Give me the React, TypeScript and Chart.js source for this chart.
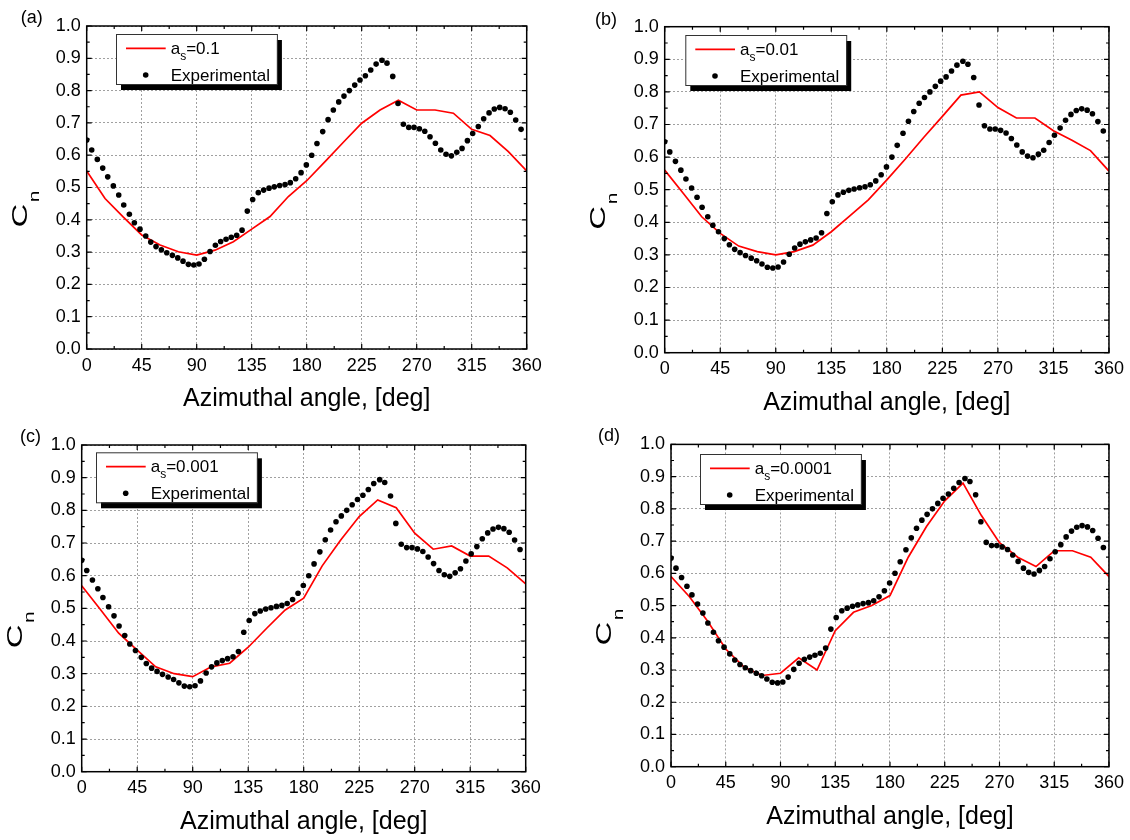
import React, { useEffect, useRef } from "react";
import { Chart, registerables } from "chart.js";

Chart.register(...registerables);

const FONT = "'Liberation Sans', Arial, Helvetica, sans-serif";

// Experimental data (same in all panels)
const expAngle = [
  0, 4.1, 8.7, 13.1, 17.2, 21.8, 26.2, 30.3, 34.9, 39.0,
  43.6, 48.3, 52.4, 56.7, 61.1, 65.5, 70.1, 74.5, 78.8, 83.2,
  87.6, 91.9, 96.3, 100.9, 105.3, 109.6, 114.0, 118.3, 122.7, 127.1,
  131.4, 135.8, 140.4, 144.8, 149.2, 153.5, 157.9, 162.3, 166.6, 171.0,
  175.4, 179.7, 184.1, 188.4, 193.1, 197.5, 201.8, 206.2, 210.5, 214.9,
  219.3, 223.6, 228.0, 232.4, 236.8, 241.6, 245.7, 250.4, 254.7, 259.1,
  263.5, 267.8, 272.2, 276.6, 280.9, 285.3, 289.7, 294.0, 298.4, 302.8,
  307.1, 311.5, 315.8, 320.4, 324.8, 329.2, 333.5, 337.9, 342.3, 346.6,
  351.0, 355.4,
];
const expCn = [
  0.647, 0.616, 0.587, 0.560, 0.533, 0.505, 0.477, 0.446, 0.417, 0.391,
  0.371, 0.350, 0.331, 0.317, 0.307, 0.298, 0.290, 0.282, 0.272, 0.262,
  0.260, 0.263, 0.278, 0.302, 0.321, 0.333, 0.340, 0.346, 0.352, 0.368,
  0.427, 0.463, 0.484, 0.492, 0.498, 0.502, 0.506, 0.509, 0.515, 0.527,
  0.546, 0.570, 0.600, 0.636, 0.673, 0.710, 0.740, 0.765, 0.783, 0.800,
  0.817, 0.833, 0.846, 0.864, 0.882, 0.894, 0.885, 0.844, 0.760, 0.696,
  0.686, 0.686, 0.682, 0.674, 0.657, 0.637, 0.616, 0.603, 0.598, 0.609,
  0.621, 0.645, 0.667, 0.689, 0.713, 0.731, 0.743, 0.748, 0.744, 0.733,
  0.709, 0.680,
];

// Model angles
const modelAngle = [
  0, 15, 30, 45, 60, 75, 90, 105, 120, 135, 150, 165, 180,
  195, 210, 225, 240, 255, 270, 285, 300, 315, 330, 345, 360,
];
const cnModelA = [
  0.551, 0.466, 0.408, 0.353, 0.322, 0.301, 0.291, 0.306, 0.332, 0.371, 0.410, 0.472, 0.521,
  0.580, 0.640, 0.699, 0.740, 0.770, 0.740, 0.740, 0.730, 0.680, 0.661, 0.611, 0.551,
];
const cnModelB = [
  0.560, 0.489, 0.417, 0.366, 0.327, 0.310, 0.300, 0.310, 0.330, 0.371, 0.420, 0.469, 0.530,
  0.594, 0.661, 0.725, 0.790, 0.800, 0.752, 0.720, 0.720, 0.681, 0.652, 0.620, 0.557,
];
const cnModelC = [
  0.569, 0.497, 0.424, 0.372, 0.321, 0.300, 0.291, 0.321, 0.332, 0.381, 0.439, 0.495, 0.531,
  0.630, 0.709, 0.781, 0.832, 0.808, 0.730, 0.681, 0.691, 0.660, 0.660, 0.624, 0.575,
];
const cnModelD = [
  0.590, 0.528, 0.452, 0.365, 0.309, 0.283, 0.290, 0.338, 0.300, 0.422, 0.479, 0.500, 0.531,
  0.650, 0.745, 0.825, 0.880, 0.780, 0.695, 0.650, 0.621, 0.670, 0.670, 0.650, 0.590,
];

const coeffValues = ["0.1", "0.01", "0.001", "0.0001"];
const panelTags = ["(a)", "(b)", "(c)", "(d)"];
const xTickValues = [0, 45, 90, 135, 180, 225, 270, 315, 360];
const yTickValues = [0, 0.1, 0.2, 0.3, 0.4, 0.5, 0.6, 0.7, 0.8, 0.9, 1.0];
const xTitle = "Azimuthal angle, [deg]";
const expLabel = "Experimental";

const CW = 565;
const CH = 420;
const XH = 40;

const panels = [
  { tag: panelTags[0], coeff: coeffValues[0], model: cnModelA, left: 0, top: 0,
    area: { l: 86.7, r: 526.7, t: 26, b: 349 }, legend: { dx: 29.3, dy: 8 }, tagPos: { x: 20.7, y: 23 } },
  { tag: panelTags[1], coeff: coeffValues[1], model: cnModelB, left: 565, top: 0,
    area: { l: 99.7, r: 545, t: 26.7, b: 352.7 }, legend: { dx: 20.6, dy: 8.3 }, tagPos: { x: 30, y: 24.5 } },
  { tag: panelTags[2], coeff: coeffValues[2], model: cnModelC, left: 0, top: 420,
    area: { l: 81.7, r: 525.7, t: 25, b: 351.7 }, legend: { dx: 14.3, dy: 7.3 }, tagPos: { x: 20, y: 21.8 } },
  { tag: panelTags[3], coeff: coeffValues[3], model: cnModelD, left: 565, top: 420,
    area: { l: 106, r: 545.3, t: 24.4, b: 346.7 }, legend: { dx: 29, dy: 9.6 }, tagPos: { x: 33, y: 21.2 } },
];

function Panel({ cfg }: { cfg: any }) {
  const ref = useRef<HTMLCanvasElement>(null);
  useEffect(() => {
    const canvas = ref.current as HTMLCanvasElement;
    const area = cfg.area;

    const decor = {
      id: "decor",
      afterDraw(chart: any) {
        const ctx = chart.ctx as CanvasRenderingContext2D;
        const ca = chart.chartArea;
        const xs = chart.scales.x;
        const ys = chart.scales.y;
        ctx.save();
        // frame
        ctx.strokeStyle = "#000";
        ctx.lineWidth = 1.5;
        ctx.strokeRect(ca.left, ca.top, ca.right - ca.left, ca.bottom - ca.top);
        // inward ticks
        ctx.lineWidth = 1.2;
        ctx.beginPath();
        for (let i = 0; i <= 20; i++) {
          const y = ys.getPixelForValue(i * 0.05);
          const len = i % 2 === 0 ? 5 : 3;
          ctx.moveTo(ca.left, y);
          ctx.lineTo(ca.left + len, y);
          ctx.moveTo(ca.right, y);
          ctx.lineTo(ca.right - len, y);
        }
        for (let i = 0; i <= 16; i++) {
          const x = xs.getPixelForValue(i * 22.5);
          const len = i % 2 === 0 ? 5 : 3;
          ctx.moveTo(x, ca.bottom);
          ctx.lineTo(x, ca.bottom - len);
          ctx.moveTo(x, ca.top);
          ctx.lineTo(x, ca.top + len);
        }
        ctx.stroke();

        // panel tag
        ctx.fillStyle = "#000";
        ctx.textBaseline = "alphabetic";
        ctx.textAlign = "left";
        ctx.font = `18px ${FONT}`;
        ctx.fillText(cfg.tag, cfg.tagPos.x, cfg.tagPos.y);

        // x title
        ctx.font = `25px ${FONT}`;
        ctx.textAlign = "center";
        ctx.fillText(xTitle, (ca.left + ca.right) / 2, ca.bottom + 57);

        // y title C_n (rotated)
        ctx.textAlign = "left";
        ctx.save();
        ctx.translate(ca.left - 60, (ca.top + ca.bottom) / 2 + 40);
        ctx.rotate(-Math.PI / 2);
        ctx.scale(1.5, 1);
        ctx.font = `22px ${FONT}`;
        ctx.fillText("C", 0, 0);
        const cw = ctx.measureText("C").width;
        ctx.font = `14px ${FONT}`;
        ctx.fillText("n", cw + 1, 12);
        ctx.restore();

        // legend
        const lx = ca.left + cfg.legend.dx;
        const ly = ca.top + cfg.legend.dy;
        const tx = lx + 54.7;
        ctx.font = `17px ${FONT}`;
        const aw = ctx.measureText("a").width;
        const restW = ctx.measureText("=" + cfg.coeff).width;
        const expW = ctx.measureText(expLabel).width;
        ctx.font = `12px ${FONT}`;
        const sw = ctx.measureText("s").width;
        const textW = Math.max(aw + sw + restW, expW);
        const boxW = 54.7 + textW + 7;
        const boxH = 50;
        ctx.fillStyle = "#000";
        ctx.fillRect(lx + 5, ly + 6, boxW, boxH);
        ctx.fillStyle = "#fff";
        ctx.fillRect(lx, ly, boxW, boxH);
        ctx.strokeStyle = "#333";
        ctx.lineWidth = 1;
        ctx.strokeRect(lx + 0.5, ly + 0.5, boxW, boxH);
        ctx.strokeStyle = "#ff0000";
        ctx.lineWidth = 1.8;
        ctx.beginPath();
        ctx.moveTo(lx + 10, ly + 14.3);
        ctx.lineTo(lx + 49.7, ly + 14.3);
        ctx.stroke();
        ctx.fillStyle = "#000";
        ctx.font = `17px ${FONT}`;
        ctx.fillText("a", tx, ly + 20);
        ctx.font = `12px ${FONT}`;
        ctx.fillText("s", tx + aw, ly + 26);
        ctx.font = `17px ${FONT}`;
        ctx.fillText("=" + cfg.coeff, tx + aw + sw, ly + 20);
        ctx.beginPath();
        ctx.arc(lx + 29.7, ly + 41, 2.8, 0, Math.PI * 2);
        ctx.fill();
        ctx.fillText(expLabel, tx, ly + 47);
        ctx.restore();
      },
    };

    const tickFont = { family: FONT, size: 18 };
    const chart = new Chart(canvas, {
      type: "scatter",
      data: {
        datasets: [
          {
            label: expLabel,
            data: expAngle.map((x, i) => ({ x, y: expCn[i] })),
            showLine: false,
            pointRadius: 2.8,
            pointHoverRadius: 2.8,
            pointBackgroundColor: "#000",
            pointBorderColor: "#000",
            pointBorderWidth: 0,
            order: 0,
          },
          {
            label: "a_s=" + cfg.coeff,
            data: modelAngle.map((x, i) => ({ x, y: cfg.model[i] })),
            showLine: true,
            borderColor: "#ff0000",
            backgroundColor: "#ff0000",
            borderWidth: 1.7,
            pointRadius: 0,
            pointHoverRadius: 0,
            fill: false,
            tension: 0,
            order: 1,
          },
        ],
      },
      options: {
        animation: false,
        responsive: false,
        events: [],
        layout: {
          padding: { left: 0, top: area.t, right: CW - area.r, bottom: CH - area.b - XH },
        },
        plugins: { legend: { display: false }, tooltip: { enabled: false } },
        scales: {
          x: {
            type: "linear",
            min: 0,
            max: 360,
            afterBuildTicks: (s: any) => {
              s.ticks = xTickValues.map((v) => ({ value: v }));
            },
            ticks: { font: tickFont, color: "#000", padding: 6, maxRotation: 0, autoSkip: false,
              callback: (v: any) => String(v) },
            grid: { color: "#a0a0a0", lineWidth: 1, drawTicks: false },
            border: { display: false, dash: [2, 2] },
            afterFit: (s: any) => {
              s.height = XH;
            },
          },
          y: {
            type: "linear",
            min: 0,
            max: 1,
            afterBuildTicks: (s: any) => {
              s.ticks = yTickValues.map((v) => ({ value: v }));
            },
            ticks: { font: tickFont, color: "#000", padding: 6, autoSkip: false,
              callback: (v: any) => Number(v).toFixed(1) },
            grid: { color: "#a0a0a0", lineWidth: 1, drawTicks: false },
            border: { display: false, dash: [2, 2] },
            afterFit: (s: any) => {
              s.width = area.l;
            },
          },
        },
      },
      plugins: [decor],
    } as any);
    return () => chart.destroy();
  }, []);
  return (
    <canvas
      ref={ref}
      width={CW}
      height={CH}
      style={{ position: "absolute", left: cfg.left, top: cfg.top, width: CW, height: CH }}
    />
  );
}

export default function App() {
  return (
    <div style={{ position: "absolute", left: 0, top: 0, width: 1130, height: 840, background: "#fff" }}>
      {panels.map((p) => (
        <Panel key={p.tag} cfg={p} />
      ))}
    </div>
  );
}
